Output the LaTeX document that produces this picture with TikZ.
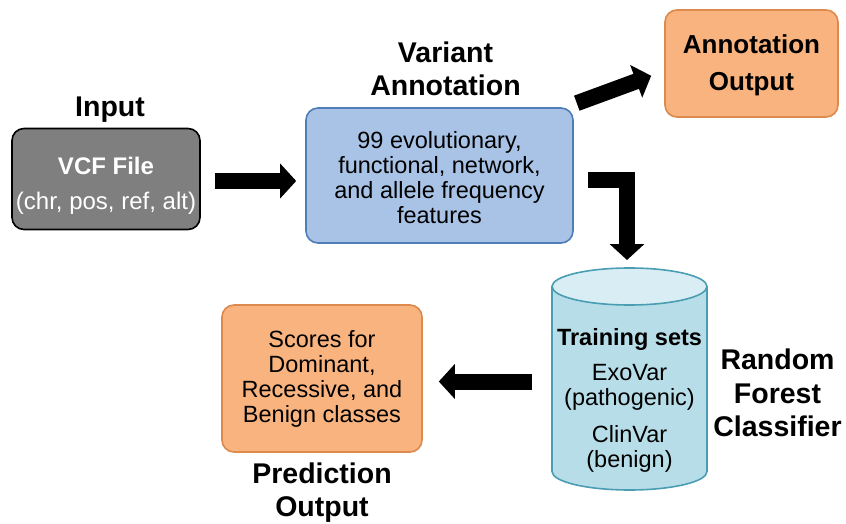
\documentclass[tikz,border=0pt]{standalone}
\usepackage{fontspec}
\setmainfont{Liberation Sans}
\usetikzlibrary{arrows.meta,positioning}

\definecolor{vcfgray}{HTML}{7F7F7F}
\definecolor{featfill}{HTML}{A9C3E6}
\definecolor{featline}{HTML}{4F7DB5}
\definecolor{outfill}{HTML}{F9B37E}
\definecolor{outdraw}{HTML}{DC8A4E}
\definecolor{cylfill}{HTML}{B7DEE8}
\definecolor{cyltopfill}{HTML}{D9EEF4}
\definecolor{cyldraw}{HTML}{4A9DB3}

\begin{document}
\begin{tikzpicture}[
		x=1pt, y=-1pt,
		line join=round,
		line cap=round,
		box/.style={rounded corners=12pt, line width=1.6pt, align=center, inner sep=0pt,
			font=\fontsize{23.5}{25}\selectfont},
		outbox/.style={box, draw=outdraw, fill=outfill},
		lab/.style={align=center, inner sep=0pt, font=\fontsize{28.5}{33.5}\selectfont\bfseries},
		blockarrow/.style={draw=black, line width=16pt, line cap=butt, line join=miter,
			-{Triangle[length=16pt, width=34pt]}},
		cylbody/.style={draw=cyldraw, fill=cylfill, line width=1.6pt},
		cyltop/.style={draw=cyldraw, fill=cyltopfill, line width=1.6pt}
	]
	\useasboundingbox (0,0) rectangle (846,524);
	
	% Cylinder parameters
	\def\cx{629.5}
	\def\crx{77.5}
	\def\cry{18.5}
	\def\ctop{286.5}
	\def\cbot{471.5}
	
	% Boxes
	\node[box, draw=black, fill=vcfgray, text=white, minimum width=188pt, minimum height=101pt,
	font=\fontsize{24}{25}\selectfont]
	(vcf) at (106,179) {\rule{0pt}{31pt}\textbf{VCF File}\\[10pt](chr, pos, ref, alt)};
	
	\node[box, draw=featline, fill=featfill, minimum width=267pt, minimum height=135pt]
	(feat) at (439.5,175.5) {\rule{0pt}{22pt}99 evolutionary,\\functional, network,\\and allele frequency\\features};
	
	\node[outbox, minimum width=173pt, minimum height=107pt, font=\fontsize{26}{37}\selectfont\bfseries]
	(annout) at (751.5,63.5) {\rule{0pt}{22pt}Annotation\\Output};
	
	\node[outbox, minimum width=200pt, minimum height=147pt]
	(pred) at (322,378.5) {Scores for\\Dominant,\\Recessive, and\\Benign classes};
	
	% Cylinder
	\filldraw[cylbody] (\cx-\crx,\ctop) -- (\cx-\crx,\cbot)
	arc[start angle=180, end angle=0, x radius=\crx, y radius=\cry]
	-- (\cx+\crx,\ctop) -- cycle;
	\filldraw[cyltop] (\cx,\ctop) ellipse[x radius=\crx, y radius=\cry];
	\coordinate (cyltop) at (\cx,\ctop-\cry);
	\coordinate (cylleft) at (\cx-\crx,381.5);
	
	\node[align=center, inner sep=0pt, font=\fontsize{23.5}{25}\selectfont]
	(train) at (\cx,400) {\textbf{Training sets}\\[10pt]ExoVar\\(pathogenic)\\[12pt]ClinVar\\(benign)};
	
	% Labels
	\node[lab] (inlab) at (110,110) {Input};
	\node[lab] (varlab) at (445.5,69) {Variant\\Annotation};
	\node[lab] (rfclab) at (777.5,393) {Random\\Forest\\Classifier};
	\node[lab, font=\fontsize{28.5}{33}\selectfont\bfseries] (predlab) at (322,493) {Prediction\\Output};
	
	% Arrows
	\draw[blockarrow] ([shift={(14,2)}]vcf.east) -- ([shift={(-9,5.5)}]feat.west);
	\draw[blockarrow] ([shift={(3,-4)}]feat.north east) -- ([shift={(-13,-42)}]annout.south west);
	\draw[blockarrow] ([shift={(14,4)}]feat.east) -| ([shift={(-2.5,-8)}]cyltop);
	\draw[blockarrow] ([xshift=-20]cylleft) -- ([shift={(16,3)}]pred.east);
	
\end{tikzpicture}
\end{document}
